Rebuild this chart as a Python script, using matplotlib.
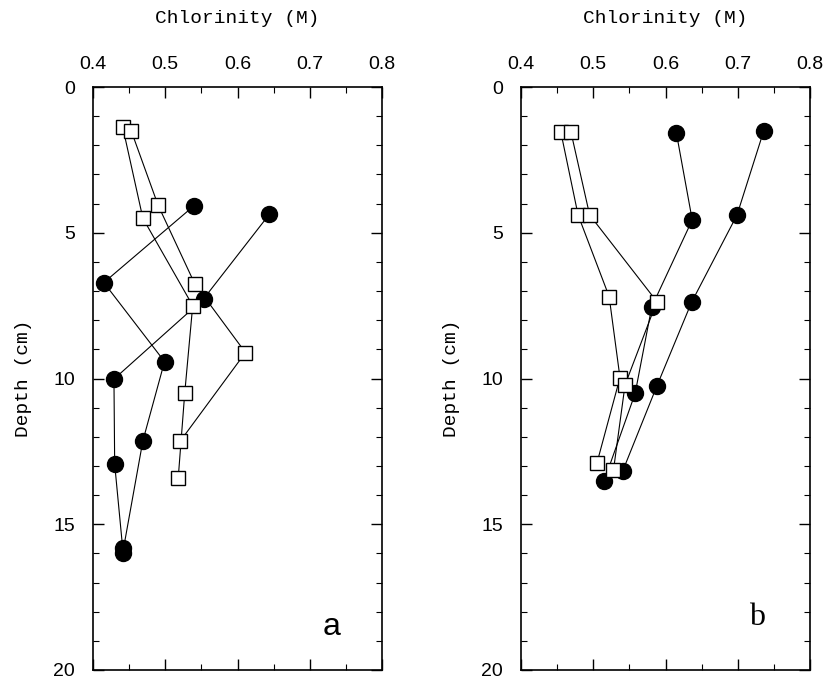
#!/bin/env python3
# Chlorinity vs depth profiles, two panels (a, b), open squares and filled circles
import matplotlib
matplotlib.use("Agg")
import matplotlib.pyplot as plt
from matplotlib.ticker import MultipleLocator

# panel a - open squares
a_sq1_cl = [0.441, 0.469, 0.538, 0.527, 0.518]
a_sq1_z = [1.36, 4.5, 7.5, 10.49, 13.4]
a_sq2_cl = [0.453, 0.490, 0.541, 0.611, 0.521]
a_sq2_z = [1.51, 4.05, 6.76, 9.11, 12.14]
# panel a - filled circles
a_ci1_cl = [0.644, 0.553, 0.429, 0.430, 0.441]
a_ci1_z = [4.37, 7.27, 10.02, 12.94, 15.8]
a_ci2_cl = [0.540, 0.415, 0.499, 0.469, 0.441]
a_ci2_z = [4.07, 6.71, 9.42, 12.14, 16.0]

# panel b - open squares
b_sq1_cl = [0.455, 0.479, 0.522, 0.537, 0.505]
b_sq1_z = [1.53, 4.39, 7.19, 9.97, 12.91]
b_sq2_cl = [0.469, 0.495, 0.588, 0.544, 0.528]
b_sq2_z = [1.53, 4.39, 7.36, 10.22, 13.14]
# panel b - filled circles
b_ci1_cl = [0.615, 0.637, 0.581, 0.558, 0.515]
b_ci1_z = [1.57, 4.56, 7.54, 10.51, 13.52]
b_ci2_cl = [0.736, 0.699, 0.636, 0.588, 0.541]
b_ci2_z = [1.50, 4.39, 7.39, 10.26, 13.16]

panels = [
    ("a", [(a_sq1_cl, a_sq1_z), (a_sq2_cl, a_sq2_z)], [(a_ci1_cl, a_ci1_z), (a_ci2_cl, a_ci2_z)]),
    ("b", [(b_sq1_cl, b_sq1_z), (b_sq2_cl, b_sq2_z)], [(b_ci1_cl, b_ci1_z), (b_ci2_cl, b_ci2_z)]),
]

xticks = [0.4, 0.5, 0.6, 0.7, 0.8]
yticks = [0, 5, 10, 15, 20]

fig = plt.figure(figsize=(8.28, 6.83), dpi=100)
lefts = [93 / 828, 521 / 828]
letter_pos = {"a": (0.827, 0.074), "b": (0.817, 0.09)}
mono = "Liberation Mono"

for left, (letter, squares, circles) in zip(lefts, panels):
    ax = fig.add_axes([left, 13 / 683, 289 / 828, 583 / 683])
    for cl, z in circles:
        ax.plot(cl, z, color="black", linewidth=0.8, marker="o", markersize=11.5,
                markerfacecolor="black", markeredgecolor="black", zorder=3)
    for cl, z in squares:
        ax.plot(cl, z, color="black", linewidth=0.8, marker="s", markersize=10,
                markerfacecolor="white", markeredgecolor="black", markeredgewidth=1.0, zorder=4)

    ax.set_xlim(0.4, 0.8)
    ax.set_ylim(20, 0)
    ax.xaxis.set_ticks_position("both")
    ax.yaxis.set_ticks_position("both")
    ax.xaxis.set_label_position("top")
    ax.tick_params(axis="x", labeltop=True, labelbottom=False)
    ax.set_xticks(xticks)
    ax.set_xticklabels([f"{t:.1f}" for t in xticks])
    ax.set_yticks(yticks)
    ax.xaxis.set_minor_locator(MultipleLocator(0.05))
    ax.yaxis.set_minor_locator(MultipleLocator(1))
    ax.tick_params(which="major", direction="in", length=8, width=1.0, labelsize=14)
    ax.tick_params(axis="x", which="major", pad=10)
    ax.tick_params(axis="y", which="major", pad=13)
    ax.tick_params(which="minor", direction="in", length=4, width=0.8)
    for lab in ax.get_xticklabels() + ax.get_yticklabels():
        lab.set_family("Liberation Sans")
    for s in ax.spines.values():
        s.set_linewidth(1.2)

    ax.set_xlabel("Chlorinity (M)", family=mono, fontsize=14, labelpad=24)
    ax.set_ylabel("Depth (cm)", family=mono, fontsize=14, labelpad=15)

    fam = "Liberation Sans" if letter == "a" else "Liberation Serif"
    lx, ly = letter_pos[letter]
    ax.text(lx, ly, letter, transform=ax.transAxes, fontsize=23,
            family=fam, ha="center", va="center")

fig.savefig("out.png", dpi=100)
